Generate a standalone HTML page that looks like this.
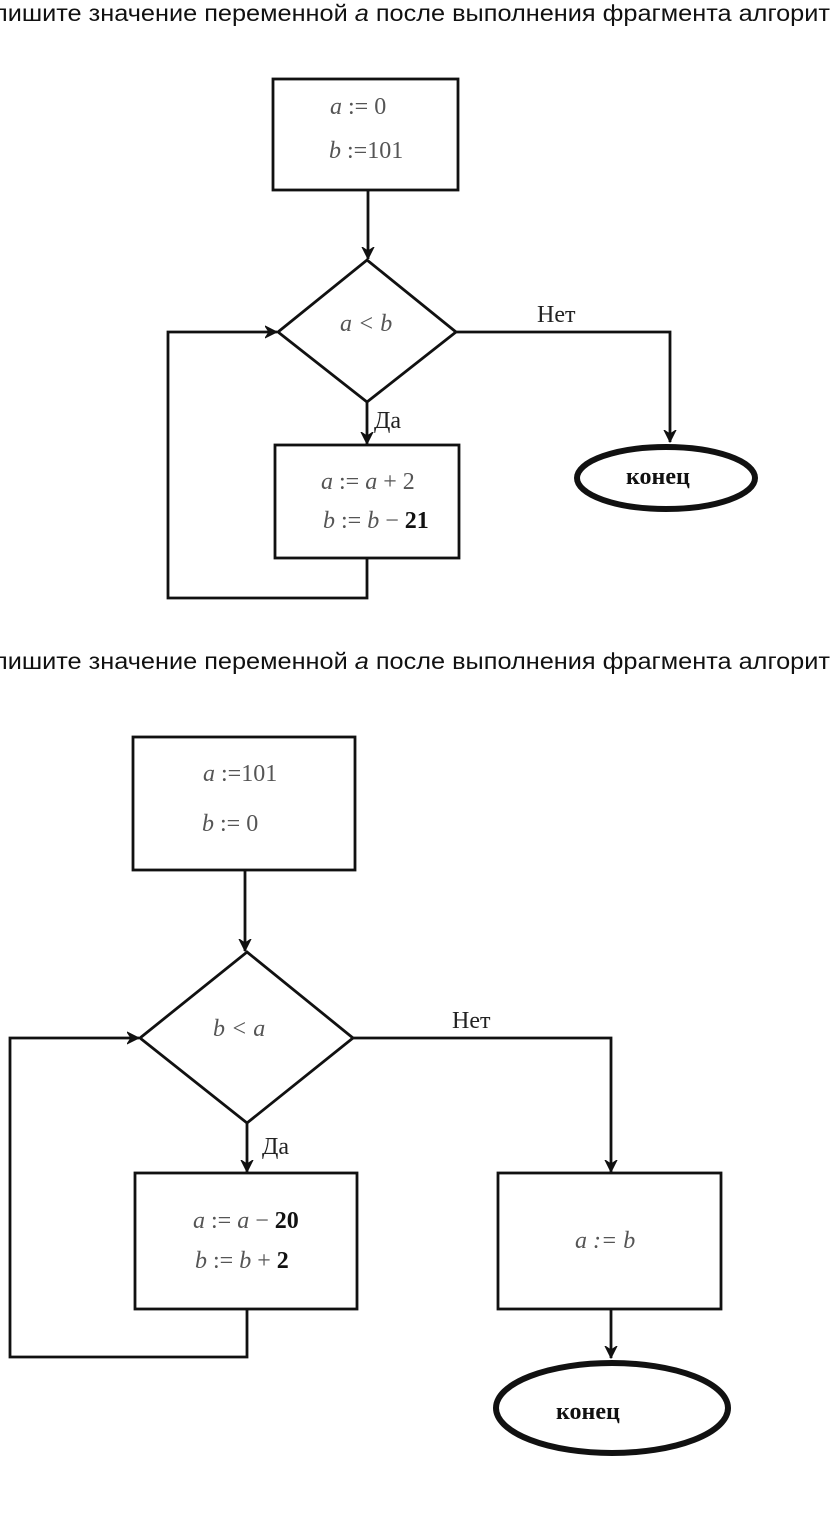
<!DOCTYPE html>
<html><head><meta charset="utf-8"><style>
html,body{margin:0;padding:0;background:#fff;}
svg{display:block;}
.h{font-family:"Liberation Sans",sans-serif;font-size:23px;fill:#111;}
.m{font-family:"Liberation Serif",serif;font-size:24px;fill:#555;}
.l{font-family:"Liberation Serif",serif;font-size:24px;fill:#222;}
.k{font-family:"Liberation Serif",serif;font-size:24px;font-weight:bold;fill:#111;}
</style></head><body>
<svg width="833" height="1513" viewBox="0 0 833 1513" xmlns="http://www.w3.org/2000/svg">
<defs>
<marker id="ar" markerWidth="14" markerHeight="14" refX="12" refY="7" orient="auto" markerUnits="userSpaceOnUse">
<path d="M0,1 L12,7 L0,13 L4,7 Z" fill="#111" stroke="#111" stroke-width="1"/>
</marker>
</defs>
<text class="h" x="-6" y="21" textLength="836" lengthAdjust="spacingAndGlyphs">пишите значение переменной <tspan font-style="italic">a</tspan> после выполнения фрагмента алгорит</text>
<text class="h" x="-6" y="669" textLength="836" lengthAdjust="spacingAndGlyphs">пишите значение переменной <tspan font-style="italic">a</tspan> после выполнения фрагмента алгорит</text>

<g fill="none" stroke="#111" stroke-width="2.8">
<rect x="273" y="79" width="185" height="111"/>
<line x1="368" y1="190" x2="368" y2="259" marker-end="url(#ar)"/>
<polygon points="367,260 456,332 367,402 278,332"/>
<line x1="367" y1="402" x2="367" y2="444" marker-end="url(#ar)"/>
<rect x="275" y="445" width="184" height="113"/>
<polyline points="367,558 367,598 168,598 168,332 277,332" marker-end="url(#ar)"/>
<polyline points="456,332 670,332 670,442" marker-end="url(#ar)"/>
<ellipse cx="666" cy="478" rx="89" ry="31" stroke-width="6"/>

<rect x="133" y="737" width="222" height="133"/>
<line x1="245" y1="870" x2="245" y2="951" marker-end="url(#ar)"/>
<polygon points="247,952 353,1038 247,1123 140,1038"/>
<line x1="247" y1="1123" x2="247" y2="1172" marker-end="url(#ar)"/>
<rect x="135" y="1173" width="222" height="136"/>
<polyline points="247,1309 247,1357 10,1357 10,1038 139,1038" marker-end="url(#ar)"/>
<polyline points="353,1038 611,1038 611,1172" marker-end="url(#ar)"/>
<rect x="498" y="1173" width="223" height="136"/>
<line x1="611" y1="1309" x2="611" y2="1358" marker-end="url(#ar)"/>
<ellipse cx="612" cy="1408" rx="116" ry="45" stroke-width="6"/>
</g>

<text class="m" x="330" y="114"><tspan font-style="italic">a</tspan> := 0</text>
<text class="m" x="329" y="158"><tspan font-style="italic">b</tspan> :=101</text>
<text class="m" x="340" y="331" font-style="italic">a &lt; b</text>
<text class="l" x="374" y="428">Да</text>
<text class="l" x="537" y="322">Нет</text>
<text class="m" x="321" y="489"><tspan font-style="italic">a</tspan> := <tspan font-style="italic">a</tspan> + 2</text>
<text class="m" x="323" y="528"><tspan font-style="italic">b</tspan> := <tspan font-style="italic">b</tspan> − <tspan class="k">21</tspan></text>
<text class="k" x="626" y="484" font-size="25">конец</text>

<text class="m" x="203" y="781" font-size="29"><tspan font-style="italic">a</tspan> :=101</text>
<text class="m" x="202" y="831" font-size="29"><tspan font-style="italic">b</tspan> := 0</text>
<text class="m" x="213" y="1036" font-size="29" font-style="italic">b &lt; a</text>
<text class="l" x="262" y="1154" font-size="28">Да</text>
<text class="l" x="452" y="1028" font-size="28">Нет</text>
<text class="m" x="193" y="1228" font-size="28"><tspan font-style="italic">a</tspan> := <tspan font-style="italic">a</tspan> − <tspan class="k" font-size="28">20</tspan></text>
<text class="m" x="195" y="1268" font-size="28"><tspan font-style="italic">b</tspan> := <tspan font-style="italic">b</tspan> + <tspan class="k" font-size="28">2</tspan></text>
<text class="m" x="575" y="1248" font-size="29" font-style="italic">a := b</text>
<text class="k" x="556" y="1419" font-size="31">конец</text>
</svg>
</body></html>
